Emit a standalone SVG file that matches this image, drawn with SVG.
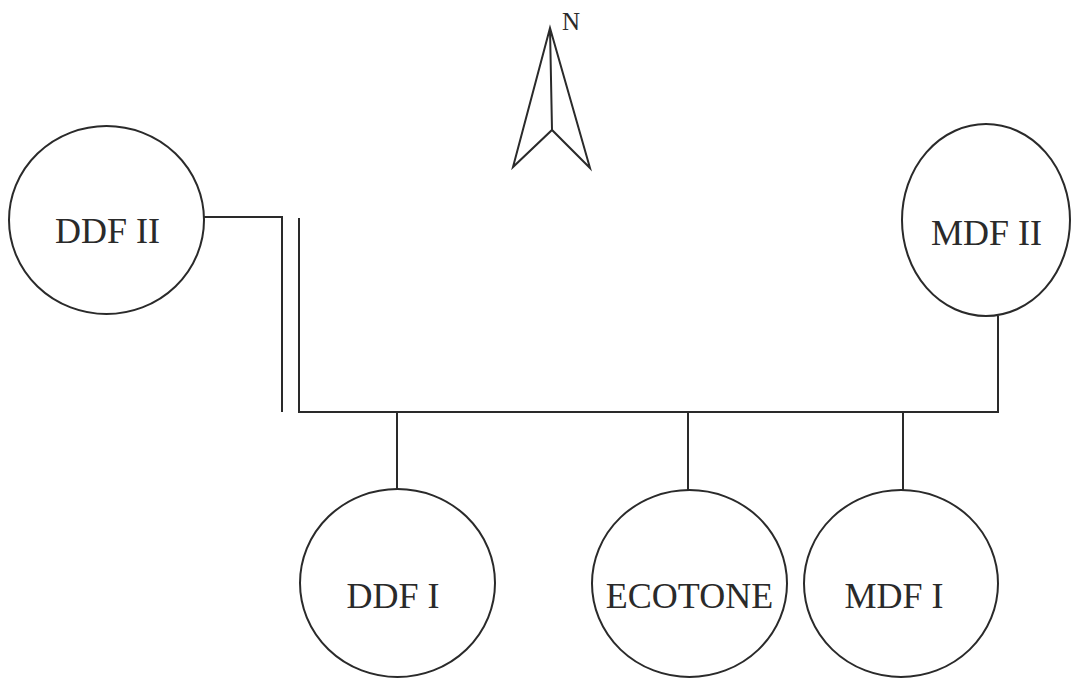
<svg xmlns="http://www.w3.org/2000/svg" width="1072" height="678" viewBox="0 0 1072 678">
<style>
.n{fill:none;stroke:#2a2a2a;stroke-width:2}
.c{fill:none;stroke:#2a2a2a;stroke-width:2}
.t{font-family:"Liberation Serif","Times New Roman",serif;font-size:36px;fill:#2a2a2a;text-anchor:middle}
</style>
<rect width="1072" height="678" fill="#ffffff"/>
<g id="north">
<path class="n" d="M550,28 L513,167 L552,130 L590,168 Z M550,28 L552,130" stroke-linejoin="miter"/>
<text x="571" y="30" style="font-family:'Liberation Serif','Times New Roman',serif;font-size:25px;fill:#2a2a2a;text-anchor:middle">N</text>
</g>
<g id="connectors">
<polyline class="c" points="204,217 282,217 282,412"/>
<polyline class="c" points="299,218 299,412 998,412 998,316"/>
<line class="c" x1="397" y1="412" x2="397" y2="489"/>
<line class="c" x1="688" y1="412" x2="688" y2="490"/>
<line class="c" x1="903" y1="412" x2="903" y2="490"/>
</g>
<g id="ddf2">
<ellipse class="n" cx="106.5" cy="220" rx="97.5" ry="94"/>
<text class="t" x="107.5" y="243">DDF II</text>
</g>
<g id="mdf2">
<ellipse class="n" cx="986" cy="220" rx="84" ry="96"/>
<text class="t" x="986.5" y="245">MDF II</text>
</g>
<g id="ddf1">
<ellipse class="n" cx="397.5" cy="583" rx="97.5" ry="94"/>
<text class="t" x="393" y="608">DDF I</text>
</g>
<g id="ecotone">
<ellipse class="n" cx="689.5" cy="583.5" rx="97.5" ry="93.5"/>
<text class="t" x="689.5" y="608">ECOTONE</text>
</g>
<g id="mdf1">
<ellipse class="n" cx="901" cy="583.5" rx="97" ry="93.5"/>
<text class="t" x="894" y="608">MDF I</text>
</g>
</svg>
